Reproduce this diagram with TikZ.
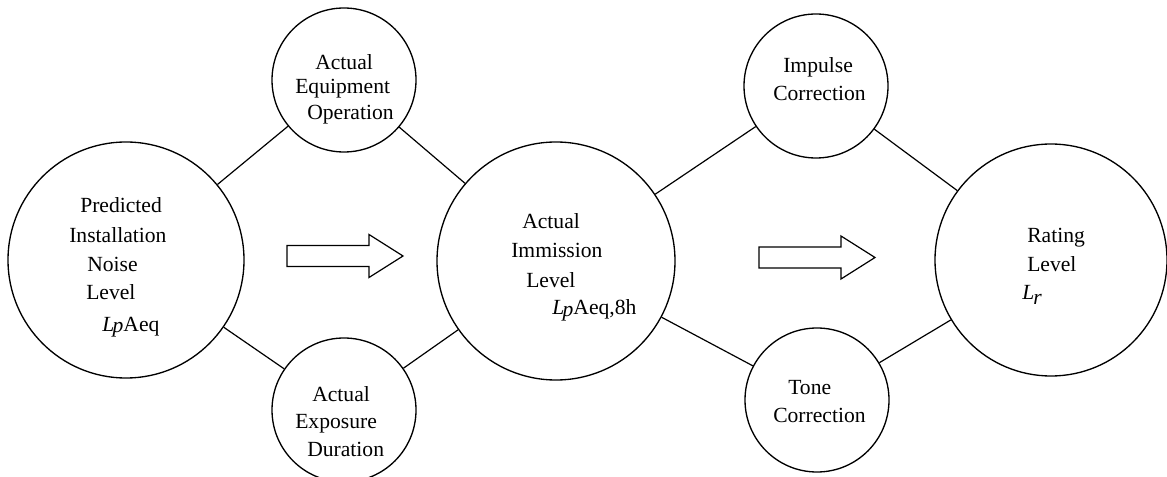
\documentclass[tikz,border=0pt]{standalone}
\usepackage{fontspec}
\setmainfont{Liberation Serif}
\newcommand{\Lp}{\textit{L\kern-1.2pt\raisebox{-0.08em}{p}}}
\newcommand{\Lr}{\textit{L\kern-0.6pt\raisebox{-0.22em}{r}}}
\begin{document}
\begin{tikzpicture}[x=0.75pt,y=-0.75pt,
  bubble/.style={circle,draw,line width=1pt,inner sep=0pt,minimum size=#1},
  txt/.style={anchor=base west,inner sep=0pt,font=\fontsize{16.2}{19}\selectfont},
  link/.style={line width=0.9pt},
  blockarrow/.pic={\draw[line width=0.9pt] (0,-10.5) -- (82,-10.5) -- (82,-21.5) -- (116,0) -- (82,21.5) -- (82,10.5) -- (0,10.5) -- cycle;}]
\useasboundingbox (0,0) rectangle (1167,477);
% circles
\node[bubble=177pt]   (lc) at (126,260) {};
\node[bubble=178.5pt] (mc) at (556,261) {};
\node[bubble=174pt]   (rc) at (1051,260) {};
\node[bubble=108pt]   (tl) at (344,80) {};
\node[bubble=108pt]   (bl) at (344,410) {};
\node[bubble=108pt]   (tr) at (816,86) {};
\node[bubble=108pt]   (br) at (817,400) {};
% connectors
\draw[link] (lc) -- (tl);
\draw[link] (lc) -- (bl);
\draw[link] (tl) -- (mc);
\draw[link] (bl) -- (mc);
\draw[link] (mc) -- (tr);
\draw[link] (mc) -- (br);
\draw[link] (tr) -- (rc);
\draw[link] (br) -- (rc);
% block arrows
\coordinate (a1) at (287,256);
\coordinate (a2) at (759,257.5);
\pic at (a1) {blockarrow};
\pic at (a2) {blockarrow};
% left circle text
\node[txt] (lc1) at (80,213) {Predicted};
\node[txt] (lc2) at (69,243) {Installation};
\node[txt] (lc3) at (87,272) {Noise};
\node[txt] (lc4) at (86,300) {Level};
\node[txt] (lc5) at (102,331) {\Lp Aeq};
% middle circle text
\node[txt] (mc1) at (522,229) {Actual};
\node[txt] (mc2) at (511,258) {Immission};
\node[txt] (mc3) at (526,287) {Level};
\node[txt] (mc4) at (552,315) {\Lp Aeq,8h};
% right circle text
\node[txt] (rc1) at (1027,243) {Rating};
\node[txt] (rc2) at (1027,272) {Level};
\node[txt] (rc3) at (1022,300) {\Lr};
% top-left
\node[txt] (tl1) at (315,70) {Actual};
\node[txt] (tl2) at (295,94) {Equipment};
\node[txt] (tl3) at (307,120) {Operation};
% bottom-left
\node[txt] (bl1) at (312,401) {Actual};
\node[txt] (bl2) at (295,428) {Exposure};
\node[txt] (bl3) at (307,456) {Duration};
% top-right
\node[txt] (tr1) at (783,73) {Impulse};
\node[txt] (tr2) at (773,101) {Correction};
% bottom-right
\node[txt] (br1) at (788,394) {Tone};
\node[txt] (br2) at (773,422) {Correction};
\end{tikzpicture}
\end{document}
